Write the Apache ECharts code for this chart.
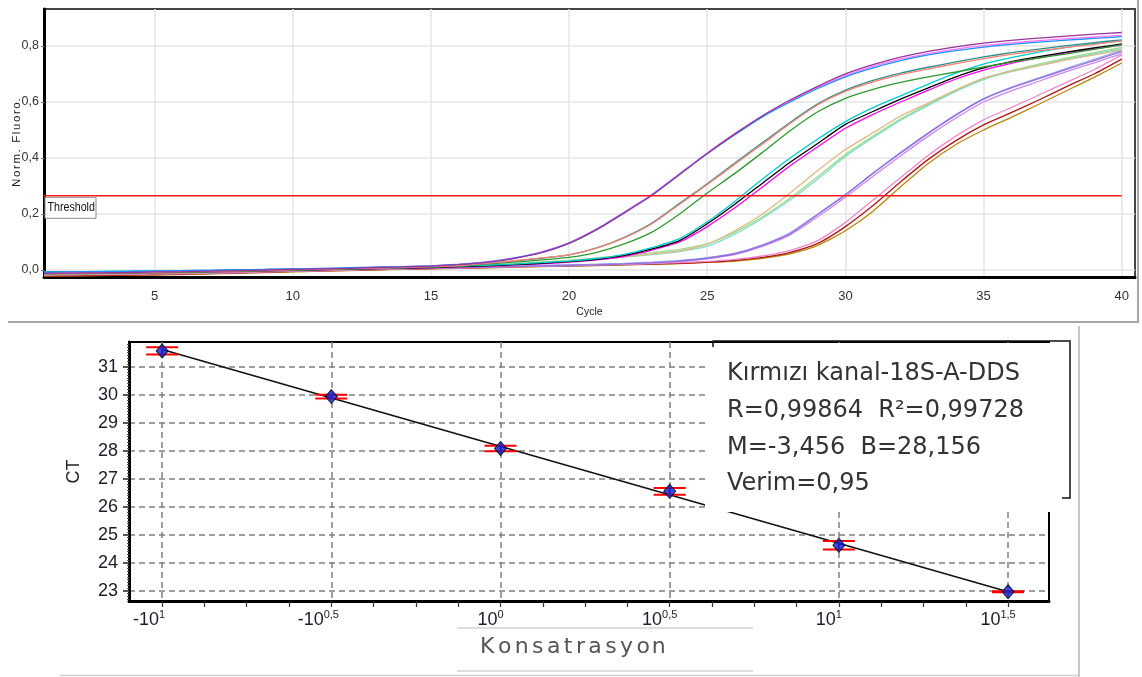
<!DOCTYPE html>
<html>
<head>
<meta charset="utf-8">
<script src="https://cdn.jsdelivr.net/npm/echarts@6/dist/echarts.min.js"></script>
<style>
  html, body { margin: 0; padding: 0; background: #fff; }
  #chart { width: 1142px; height: 677px; }
</style>
</head>
<body>
<div id="chart"></div>
<script>
// ---------- Amplification plot (top) ----------
const cycles = [1,2,3,4,5,6,7,8,9,10,11,12,13,14,15,16,17,18,19,20,21,22,23,24,25,26,27,28,29,30,31,32,33,34,35,36,37,38,39,40];
const cycleTicks = [5, 10, 15, 20, 25, 30, 35, 40];
const fluoroTicks = [0, 0.2, 0.4, 0.6, 0.8];
const threshold = 0.265;

// normalised fluorescence per cycle, one array per well
const ampBlue      = [-0.008,-0.007,-0.006,-0.005,-0.004,-0.002,-0.001,0.001,0.002,0.004,0.006,0.008,0.010,0.012,0.015,0.020,0.028,0.042,0.063,0.096,0.145,0.205,0.268,0.342,0.415,0.483,0.547,0.600,0.648,0.690,0.722,0.748,0.768,0.783,0.796,0.806,0.814,0.821,0.827,0.833];
const ampViolet    = [-0.010,-0.009,-0.008,-0.006,-0.005,-0.004,-0.002,0.000,0.001,0.003,0.005,0.007,0.009,0.012,0.015,0.021,0.029,0.043,0.065,0.098,0.147,0.207,0.270,0.344,0.418,0.487,0.550,0.604,0.652,0.694,0.727,0.753,0.773,0.789,0.801,0.811,0.819,0.826,0.832,0.838];
const ampPurple    = [-0.012,-0.011,-0.010,-0.009,-0.007,-0.006,-0.004,-0.002,0.000,0.002,0.004,0.006,0.009,0.011,0.014,0.019,0.027,0.041,0.062,0.095,0.144,0.204,0.267,0.341,0.416,0.486,0.551,0.607,0.656,0.700,0.733,0.760,0.781,0.797,0.810,0.820,0.828,0.835,0.842,0.848];
const ampSalmon    = [-0.012,-0.011,-0.010,-0.009,-0.008,-0.006,-0.005,-0.003,-0.001,0.001,0.003,0.005,0.007,0.009,0.012,0.016,0.024,0.033,0.043,0.054,0.078,0.115,0.165,0.235,0.305,0.378,0.450,0.523,0.590,0.638,0.672,0.698,0.718,0.737,0.755,0.770,0.783,0.795,0.806,0.818];
const ampTeal      = [-0.008,-0.007,-0.007,-0.006,-0.005,-0.004,-0.003,-0.001,0.001,0.003,0.004,0.006,0.008,0.010,0.012,0.016,0.023,0.032,0.042,0.054,0.079,0.117,0.168,0.238,0.308,0.382,0.455,0.527,0.593,0.642,0.677,0.703,0.724,0.743,0.761,0.776,0.789,0.801,0.812,0.822];
const ampGreen     = [-0.014,-0.013,-0.012,-0.011,-0.010,-0.008,-0.007,-0.005,-0.003,-0.001,0.001,0.003,0.005,0.008,0.011,0.014,0.021,0.028,0.036,0.045,0.063,0.093,0.135,0.200,0.275,0.345,0.420,0.497,0.565,0.613,0.645,0.670,0.690,0.707,0.725,0.742,0.757,0.772,0.788,0.805];
const ampCyan      = [-0.006,-0.006,-0.005,-0.004,-0.003,-0.002,-0.001,0.000,0.002,0.003,0.004,0.006,0.008,0.010,0.012,0.014,0.017,0.021,0.026,0.032,0.041,0.056,0.080,0.112,0.172,0.245,0.325,0.400,0.468,0.530,0.580,0.622,0.664,0.703,0.735,0.758,0.778,0.795,0.808,0.818];
const ampBlack     = [-0.011,-0.011,-0.010,-0.009,-0.008,-0.007,-0.006,-0.004,-0.002,-0.001,0.001,0.003,0.005,0.007,0.009,0.012,0.015,0.019,0.024,0.030,0.038,0.052,0.075,0.105,0.165,0.235,0.310,0.385,0.452,0.520,0.566,0.610,0.650,0.690,0.722,0.744,0.762,0.778,0.793,0.807];
const ampMagenta   = [-0.013,-0.012,-0.012,-0.011,-0.010,-0.009,-0.007,-0.006,-0.004,-0.002,0.000,0.002,0.004,0.006,0.008,0.011,0.014,0.018,0.022,0.028,0.036,0.049,0.071,0.100,0.155,0.222,0.296,0.372,0.440,0.506,0.556,0.600,0.642,0.682,0.714,0.738,0.758,0.775,0.790,0.803];
const ampTan       = [-0.016,-0.015,-0.014,-0.013,-0.012,-0.011,-0.009,-0.007,-0.005,-0.003,-0.001,0.001,0.003,0.005,0.008,0.011,0.015,0.019,0.024,0.030,0.038,0.047,0.057,0.068,0.092,0.140,0.200,0.275,0.355,0.430,0.490,0.550,0.596,0.643,0.685,0.710,0.730,0.750,0.768,0.786];
const ampAqua      = [-0.012,-0.011,-0.011,-0.010,-0.009,-0.008,-0.006,-0.005,-0.003,-0.001,0.001,0.003,0.005,0.007,0.009,0.012,0.016,0.020,0.025,0.031,0.038,0.046,0.055,0.066,0.085,0.128,0.185,0.250,0.325,0.405,0.472,0.535,0.588,0.638,0.680,0.708,0.730,0.752,0.772,0.790];
const ampLightGreen= [-0.010,-0.009,-0.009,-0.008,-0.007,-0.006,-0.004,-0.003,-0.001,0.001,0.003,0.005,0.007,0.009,0.011,0.014,0.018,0.023,0.029,0.035,0.043,0.052,0.062,0.074,0.093,0.135,0.190,0.257,0.333,0.412,0.478,0.540,0.592,0.640,0.683,0.712,0.735,0.757,0.776,0.795];
const ampLavender  = [-0.015,-0.014,-0.013,-0.012,-0.011,-0.010,-0.009,-0.007,-0.005,-0.003,-0.001,0.001,0.003,0.005,0.007,0.009,0.011,0.013,0.015,0.017,0.019,0.022,0.026,0.032,0.042,0.058,0.088,0.130,0.198,0.268,0.345,0.418,0.488,0.553,0.610,0.650,0.683,0.716,0.748,0.780];
const ampPeriwinkle= [-0.013,-0.012,-0.012,-0.011,-0.010,-0.009,-0.007,-0.006,-0.004,-0.002,0.000,0.002,0.004,0.006,0.008,0.010,0.012,0.014,0.016,0.018,0.021,0.024,0.028,0.034,0.044,0.060,0.090,0.133,0.200,0.270,0.346,0.420,0.490,0.555,0.612,0.652,0.686,0.720,0.752,0.784];
const ampOrchid    = [-0.017,-0.016,-0.015,-0.014,-0.013,-0.012,-0.010,-0.008,-0.006,-0.004,-0.002,0.000,0.002,0.004,0.006,0.008,0.010,0.012,0.014,0.016,0.018,0.021,0.025,0.030,0.040,0.055,0.084,0.125,0.190,0.260,0.335,0.408,0.478,0.543,0.600,0.640,0.674,0.708,0.740,0.772];
const ampPink      = [-0.018,-0.017,-0.016,-0.015,-0.014,-0.013,-0.011,-0.009,-0.007,-0.004,-0.002,0.000,0.002,0.004,0.006,0.008,0.010,0.012,0.014,0.016,0.018,0.020,0.023,0.026,0.031,0.038,0.050,0.070,0.105,0.170,0.250,0.330,0.410,0.478,0.536,0.580,0.625,0.670,0.715,0.768];
const ampDarkRed   = [-0.021,-0.020,-0.019,-0.018,-0.016,-0.015,-0.013,-0.010,-0.008,-0.005,-0.003,-0.001,0.001,0.003,0.005,0.007,0.009,0.011,0.013,0.015,0.017,0.019,0.021,0.024,0.028,0.034,0.045,0.063,0.095,0.155,0.230,0.315,0.395,0.462,0.518,0.562,0.607,0.655,0.700,0.753];
const ampGold      = [-0.022,-0.021,-0.020,-0.019,-0.018,-0.016,-0.014,-0.012,-0.009,-0.007,-0.004,-0.002,0.000,0.002,0.004,0.006,0.008,0.010,0.012,0.014,0.016,0.018,0.020,0.023,0.027,0.032,0.042,0.058,0.088,0.140,0.210,0.297,0.380,0.448,0.500,0.545,0.592,0.640,0.688,0.739];

const wells = [
  { values: ampGold,       color: '#b8860b' },
  { values: ampDarkRed,    color: '#b01515' },
  { values: ampPink,       color: '#ee88cc' },
  { values: ampOrchid,     color: '#cc88ee' },
  { values: ampPeriwinkle, color: '#99aaee' },
  { values: ampLavender,   color: '#9370db' },
  { values: ampLightGreen, color: '#99dd88' },
  { values: ampAqua,       color: '#80dccc' },
  { values: ampTan,        color: '#deb887' },
  { values: ampMagenta,    color: '#ff00ff' },
  { values: ampBlack,      color: '#000000' },
  { values: ampCyan,       color: '#00cccc' },
  { values: ampGreen,      color: '#2e9a2e' },
  { values: ampTeal,       color: '#2f8f8f' },
  { values: ampSalmon,     color: '#fa8072' },
  { values: ampViolet,     color: '#ff77ff' },
  { values: ampBlue,       color: '#1e90ff' },
  { values: ampPurple,     color: '#993399' }
];

// ---------- Standard curve (bottom) ----------
const concLog = [-1, -0.5, 0, 0.5, 1, 1.5];
const ctMean  = [31.56, 29.93, 28.08, 26.55, 24.63, 22.97];
const ctError = [0.13, 0.07, 0.10, 0.12, 0.15, 0.02];
const regSlope = -3.456;
const regIntercept = 28.156;

const concTicks = [-1, -0.5, 0, 0.5, 1, 1.5];
const concBase  = ['-10', '-10', '10', '10', '10', '10'];
const concExp   = ['1', '0,5', '0', '0,5', '1', '1,5'];
const concMinorTicks = [-1,-0.875,-0.75,-0.625,-0.5,-0.375,-0.25,-0.125,0,0.125,0.25,0.375,0.5,0.625,0.75,0.875,1,1.125,1.25,1.375,1.5];
const ctTicks = [23, 24, 25, 26, 27, 28, 29, 30, 31];
const ctMinorTicks = [];
for (let v = 22.7; v < 31.85; v += 0.1) ctMinorTicks.push(Math.round(v * 10) / 10);

const statsLines = [
  'Kırmızı kanal-18S-A-DDS',
  'R=0,99864  R²=0,99728',
  'M=-3,456  B=28,156',
  'Verim=0,95'
];

const SANS = "'Liberation Sans', Arial, sans-serif";
const NARROW = "'Liberation Sans Narrow', 'Liberation Sans', Arial, sans-serif";
const DEJAVU = "'DejaVu Sans', Verdana, sans-serif";

// rich text with extra space between letters
function spaced(text, size, family, gap, color) {
  const ctx = document.createElement('canvas').getContext('2d');
  ctx.font = size + 'px ' + family;
  const rich = {};
  const parts = [];
  Array.from(text).forEach((ch, i) => {
    const k = 'g' + i;
    const w = ctx.measureText(ch).width + (i < text.length - 1 ? gap : 0);
    rich[k] = { width: w, fontSize: size, fontFamily: family, color: color, fill: color };
    parts.push('{' + k + '|' + ch + '}');
  });
  return { text: parts.join(''), rich };
}

const yName = spaced('Norm. Fluoro.', 11.5, SANS, 1.6, '#222');

function concLabel(v) {
  const i = concTicks.findIndex(t => Math.abs(t - v) < 1e-6);
  if (i < 0) return '';
  const neg = concBase[i].charAt(0) === '-';
  return '{' + (neg ? 'bn' : 'bp') + '|' + concBase[i] + '}{' + (neg ? 'en' : 'ep') + '|' + concExp[i] + '}';
}

const chart = echarts.init(document.getElementById('chart'), null, { renderer: 'canvas' });

const series = [];
wells.forEach(w => {
  series.push({
    type: 'line', xAxisIndex: 0, yAxisIndex: 0,
    data: cycles.map((c, i) => [c, w.values[i]]),
    showSymbol: false, smooth: 0.2, silent: true,
    lineStyle: { color: w.color, width: 1.3 },
    itemStyle: { color: w.color },
    z: 3
  });
});
series.push({
  type: 'line', xAxisIndex: 0, yAxisIndex: 0,
  data: [[cycles[0], threshold], [cycles[cycles.length - 1], threshold]],
  showSymbol: false, silent: true,
  lineStyle: { color: '#ff1a1a', width: 1.6 },
  z: 4
});

const x0 = concLog[0], x1 = concLog[concLog.length - 1];
series.push({
  type: 'line', xAxisIndex: 1, yAxisIndex: 1,
  data: [[x0, regIntercept + regSlope * x0], [x1, regIntercept + regSlope * x1]],
  showSymbol: false, silent: true,
  lineStyle: { color: '#111', width: 1.6 },
  z: 3
});
series.push({
  type: 'custom', xAxisIndex: 1, yAxisIndex: 1,
  data: concLog.map((x, i) => [x, ctMean[i], ctError[i]]),
  silent: true, z: 4,
  renderItem(params, api) {
    const x = api.value(0), y = api.value(1), e = api.value(2);
    const hi = api.coord([x, y + e]);
    const lo = api.coord([x, y - e]);
    const half = 16;
    const st = { stroke: '#ff0000', lineWidth: 2 };
    return {
      type: 'group',
      children: [
        { type: 'line', shape: { x1: hi[0] - half, y1: hi[1], x2: hi[0] + half, y2: hi[1] }, style: st },
        { type: 'line', shape: { x1: lo[0] - half, y1: lo[1], x2: lo[0] + half, y2: lo[1] }, style: st },
        { type: 'line', shape: { x1: hi[0], y1: hi[1], x2: lo[0], y2: lo[1] }, style: st }
      ]
    };
  }
});
series.push({
  type: 'scatter', xAxisIndex: 1, yAxisIndex: 1,
  data: concLog.map((x, i) => [x, ctMean[i]]),
  symbol: 'diamond', symbolSize: [12, 14], silent: true,
  itemStyle: { color: '#0a1fd8', borderColor: '#000', borderWidth: 1 },
  z: 5
});

const option = {
  animation: false,
  backgroundColor: '#ffffff',
  textStyle: { fontFamily: SANS },
  grid: [
    { left: 44, top: 9, width: 1091, height: 268, show: true, borderColor: '#444', borderWidth: 2,
      backgroundColor: 'transparent', containLabel: false, outerBoundsMode: 'none' },
    { left: 129, top: 342, width: 920, height: 259, show: true, borderColor: '#000', borderWidth: 2,
      backgroundColor: 'transparent', containLabel: false, outerBoundsMode: 'none' }
  ],
  xAxis: [
    {
      type: 'value', gridIndex: 0, min: 1, max: 40.48, position: 'bottom',
      name: 'Cycle', nameLocation: 'middle', nameGap: 30,
      nameTextStyle: { fontSize: 10.5, color: '#222', fontFamily: SANS },
      axisLine: { show: true, onZero: false, lineStyle: { color: '#000', width: 3 } },
      axisTick: { show: false, customValues: cycleTicks },
      axisLabel: { customValues: cycleTicks, margin: 13, fontSize: 13, color: '#333', fontFamily: NARROW },
      splitLine: { show: true, lineStyle: { color: '#e4e4e4', width: 1.5 } }
    },
    {
      type: 'value', gridIndex: 1, min: -1.098, max: 1.621, position: 'bottom',
      axisLine: { show: true, onZero: false, lineStyle: { color: '#000', width: 3 } },
      axisTick: { show: false, customValues: concTicks },
      axisLabel: {
        customValues: concTicks, margin: 8, formatter: concLabel,
        rich: {
          bn: { fontSize: 18, fontFamily: SANS, color: '#1c1c2a', verticalAlign: 'bottom', lineHeight: 20 },
          bp: { fontSize: 18, fontFamily: SANS, color: '#1c1c2a', verticalAlign: 'bottom', lineHeight: 20 },
          en: { fontSize: 11, fontFamily: SANS, color: '#1c1c2a', verticalAlign: 'top', lineHeight: 12, padding: [0, 26, 16, 0] },
          ep: { fontSize: 11, fontFamily: SANS, color: '#1c1c2a', verticalAlign: 'top', lineHeight: 12, padding: [0, 20, 16, 0] }
        }
      },
      splitLine: { show: true, lineStyle: { color: '#808080', width: 1.5, type: [6, 4] } }
    },
    {
      type: 'value', gridIndex: 1, min: -1.098, max: 1.621, position: 'bottom',
      axisLine: { show: false, onZero: false },
      axisTick: { show: true, inside: false, length: 6, customValues: concMinorTicks, lineStyle: { color: '#333', width: 1.2 } },
      axisLabel: { show: false },
      splitLine: { show: false }
    }
  ],
  yAxis: [
    {
      type: 'value', gridIndex: 0, min: -0.025, max: 0.932, position: 'left',
      name: yName.text, nameLocation: 'middle', nameGap: 21, nameMoveOverlap: false,
      nameTextStyle: { rich: yName.rich, color: '#222' },
      axisLine: { show: true, onZero: false, lineStyle: { color: '#000', width: 3 } },
      axisTick: { show: true, length: 3, customValues: fluoroTicks, lineStyle: { color: '#777' } },
      axisLabel: { customValues: fluoroTicks, margin: 5, fontSize: 12.5, color: '#333', fontFamily: NARROW,
                   formatter: v => v.toFixed(1).replace('.', ',') },
      splitLine: { show: true, lineStyle: { color: '#e4e4e4', width: 1.5 } }
    },
    {
      type: 'value', gridIndex: 1, min: 22.64, max: 31.877, position: 'left',
      name: 'CT', nameLocation: 'middle', nameGap: 46,
      nameTextStyle: { fontSize: 18, color: '#222', fontFamily: SANS },
      axisLine: { show: true, onZero: false, lineStyle: { color: '#000', width: 3 } },
      axisTick: { show: true, length: 6, customValues: ctTicks, lineStyle: { color: '#222', width: 1.5 } },
      axisLabel: { customValues: ctTicks, margin: 11, fontSize: 18, color: '#1c1c2a', fontFamily: SANS },
      splitLine: { show: true, lineStyle: { color: '#808080', width: 1.5, type: [6, 4] } }
    },
    {
      type: 'value', gridIndex: 1, min: 22.64, max: 31.877, position: 'left',
      axisLine: { show: false, onZero: false },
      axisTick: { show: true, length: 2, customValues: ctMinorTicks, lineStyle: { color: '#555', width: 1 } },
      axisLabel: { show: false },
      splitLine: { show: false }
    }
  ],
  series: series
};

chart.setOption(option);

// annotation boxes, frames and the regression summary
const thr = chart.convertToPixel({ gridIndex: 0 }, [cycles[0], threshold]);
const konsat = spaced('Konsatrasyon', 22, DEJAVU, 3.4, '#555');

const graphics = [
  // frames around both panels
  { type: 'line', z: 50, shape: { x1: 8, y1: 322, x2: 1139, y2: 322 }, style: { stroke: '#a8a8a8', lineWidth: 2 } },
  { type: 'line', z: 50, shape: { x1: 1138, y1: 0, x2: 1138, y2: 322 }, style: { stroke: '#a8a8a8', lineWidth: 2 } },
  { type: 'line', z: 50, shape: { x1: 1079, y1: 326, x2: 1079, y2: 677 }, style: { stroke: '#b4b4b4', lineWidth: 1.5 } },
  { type: 'line', z: 50, shape: { x1: 60, y1: 675.5, x2: 1079, y2: 675.5 }, style: { stroke: '#d0d0d0', lineWidth: 1.5 } },

  // threshold tag
  { type: 'rect', z: 60, shape: { x: thr[0] + 1, y: thr[1] + 1.5, width: 51, height: 21 },
    style: { fill: '#fff', stroke: '#8a8a8a', lineWidth: 1 } },
  { type: 'text', z: 61, x: thr[0] + 3.5, y: thr[1] + 12, scaleX: 0.82,
    style: { text: 'Threshold', fill: '#111', fontSize: 13, fontFamily: NARROW, verticalAlign: 'middle', align: 'left' } },

  // regression summary box
  { type: 'rect', z: 100, shape: { x: 705, y: 343, width: 364, height: 169 }, style: { fill: '#fff', stroke: null } },
  { type: 'polyline', z: 101, shape: { points: [[713, 347], [713, 341], [1070, 341], [1070, 498], [1062, 498]] },
    style: { stroke: '#111', lineWidth: 1.5, fill: null } },

  // concentration caption box
  { type: 'line', z: 50, shape: { x1: 457, y1: 628, x2: 753, y2: 628 }, style: { stroke: '#dedede', lineWidth: 2 } },
  { type: 'line', z: 50, shape: { x1: 457, y1: 671, x2: 753, y2: 671 }, style: { stroke: '#dedede', lineWidth: 2 } },
  { type: 'text', z: 51, x: 572, y: 647,
    style: { text: konsat.text, rich: konsat.rich, fill: '#555', fontSize: 22, fontFamily: DEJAVU, align: 'center', verticalAlign: 'middle' } }
];
statsLines.forEach((line, i) => {
  graphics.push({
    type: 'text', z: 102, x: 727, y: 374 + i * 36.7,
    style: { text: line, fill: '#333', fontSize: 24, fontFamily: DEJAVU, align: 'left', verticalAlign: 'middle' }
  });
});

chart.setOption({ graphic: graphics });
</script>
</body>
</html>
